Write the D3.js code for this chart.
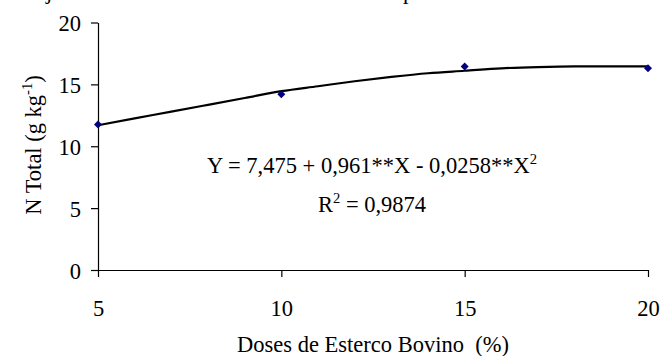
<!DOCTYPE html>
<html><head><meta charset="utf-8">
<script src="https://cdn.jsdelivr.net/npm/d3@7"></script>
<style>
html,body{margin:0;padding:0;background:#fff;}
svg text{font-family:"Liberation Serif","Times New Roman",serif;fill:#000;}
</style></head>
<body>
<svg id="c" width="662" height="356"></svg>
<script>
// Observed data
const doses = [5, 10, 15, 20];
const nTotal = [11.75, 14.2, 16.45, 16.3];
// Trendline
const trendX = [5, 6, 7, 8, 9, 10, 11, 12, 13, 14, 15, 16, 17, 18, 19, 20];
const trendY = [11.7, 12.25, 12.8, 13.35, 13.9, 14.45, 14.85, 15.25, 15.6, 15.9, 16.1, 16.3, 16.4, 16.45, 16.45, 16.45];
const xTicks = [5, 10, 15, 20];
const yTicks = [0, 5, 10, 15, 20];
const eqLine1 = "Y = 7,475 + 0,961**X - 0,0258**X";
const eqLine2 = "R";
const eqLine2b = " = 0,9874";

const svg = d3.select("#c");
const fs = 22.5;
const x = d3.scaleLinear().domain([5, 20]).range([98, 648]);
const y = d3.scaleLinear().domain([0, 20]).range([270, 22.5]);

// clipped title descenders at top
svg.append("text").attr("x", 46).attr("y", -1.5).attr("font-size", fs).text("j");
svg.append("text").attr("x", 403).attr("y", -1.5).attr("font-size", fs).text("p");

// Y axis
const yAxis = svg.append("g").attr("transform", `translate(${x(5)},0)`)
  .call(d3.axisLeft(y).tickValues(yTicks).tickSize(7).tickSizeOuter(0).tickPadding(10));
// X axis
const xAxis = svg.append("g").attr("transform", `translate(0,${y(0)})`)
  .call(d3.axisBottom(x).tickValues(xTicks).tickSize(7).tickSizeOuter(0).tickPadding(23));
[yAxis, xAxis].forEach(g => {
  g.selectAll("path,line").attr("stroke", "#000").attr("stroke-width", 1.2);
  g.selectAll("text").attr("font-size", fs).attr("font-family", '"Liberation Serif",serif').attr("fill", "#000");
});
yAxis.selectAll("text").attr("dy", "0.36em");
xAxis.selectAll("text").attr("dy", "0.71em");

// Trendline
const line = d3.line().x((d, i) => x(trendX[i])).y(d => y(d)).curve(d3.curveMonotoneX);
svg.append("path").datum(trendY).attr("d", line)
  .attr("fill", "none").attr("stroke", "#000").attr("stroke-width", 2.2);

// markers
svg.selectAll(".pt").data(nTotal).enter().append("path")
  .attr("transform", (d, i) => `translate(${x(doses[i])},${y(d)})`)
  .attr("d", "M0,-4L4,0L0,4L-4,0Z").attr("fill", "#000080");

// Equation
const eq = svg.append("text").attr("x", 372).attr("y", 173).attr("font-size", fs).attr("text-anchor", "middle");
eq.append("tspan").text(eqLine1);
eq.append("tspan").attr("font-size", fs * 0.65).attr("dy", -9).text("2");
const r2 = svg.append("text").attr("x", 372).attr("y", 212).attr("font-size", fs).attr("text-anchor", "middle");
r2.append("tspan").text(eqLine2);
r2.append("tspan").attr("font-size", fs * 0.65).attr("dy", -9).text("2");
r2.append("tspan").attr("dy", 9).text(eqLine2b);

// Axis labels
svg.append("text").attr("x", 373).attr("y", 352).attr("font-size", fs).attr("text-anchor", "middle")
  .style("white-space", "pre").text("Doses de Esterco Bovino  (%)");
const yl = svg.append("text").attr("transform", "translate(41,145) rotate(-90)")
  .attr("font-size", fs).attr("text-anchor", "middle");
yl.append("tspan").text("N Total (g kg");
yl.append("tspan").attr("font-size", fs * 0.65).attr("dy", -9).text("-1");
yl.append("tspan").attr("dy", 9).text(")");
</script>
</body></html>
